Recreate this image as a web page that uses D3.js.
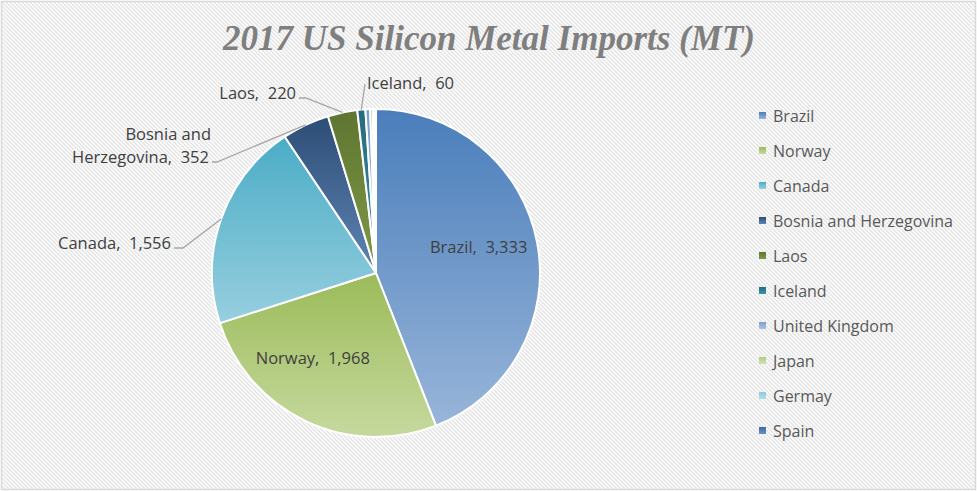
<!DOCTYPE html>
<html>
<head>
<meta charset="utf-8">
<script src="https://cdn.jsdelivr.net/npm/d3@7"></script>
<style>
  body { margin: 0; background: #fff; }
  svg text { font-family: "Open Sans", "Noto Sans", sans-serif; }
</style>
</head>
<body>
<svg id="chart" width="977" height="491"></svg>
<script>
// Data
const countries = ["Brazil", "Norway", "Canada", "Bosnia and Herzegovina", "Laos",
                   "Iceland", "United Kingdom", "Japan", "Germay", "Spain"];
const imports = [3333, 1968, 1556, 352, 220, 60, 35, 20, 15, 8];
const labelled = ["Brazil", "Norway", "Canada", "Bosnia and Herzegovina", "Laos", "Iceland"];

// slice gradients: top colour, bottom colour
const topColors = ["#4a7ebb", "#9bbb59", "#4bacc6", "#2c4d75", "#5f7530",
                   "#276a7c", "#7c9fd0", "#b3cb82", "#8ccbdc", "#3f6aa0"];
const bottomColors = ["#98b5d9", "#c6d99e", "#97cfdf", "#5f84b5", "#7f9a48",
                      "#3d93a9", "#aac2e2", "#d1e2b2", "#b2dde9", "#6a90c2"];

const svg = d3.select("#chart");
const W = 977, H = 491;
const defs = svg.append("defs");

// diagonal hatch background
const pat = defs.append("pattern")
    .attr("id", "hatch")
    .attr("width", 4).attr("height", 4)
    .attr("patternUnits", "userSpaceOnUse");
pat.append("rect").attr("width", 4).attr("height", 4).attr("fill", "#ffffff");
pat.append("path")
    .attr("d", "M-1,-1 L5,5 M-1,3 L1,5 M3,-1 L5,1")
    .attr("stroke", "#e3e3e3")
    .attr("stroke-width", 1.4);

svg.append("rect")
    .attr("x", 1.5).attr("y", 1.5)
    .attr("width", W - 3).attr("height", H - 3)
    .attr("fill", "url(#hatch)")
    .attr("stroke", "#d9d9d9")
    .attr("stroke-width", 1.5);

countries.forEach((c, i) => {
    const g = defs.append("linearGradient")
        .attr("id", `grad-${i}`)
        .attr("x1", 0).attr("y1", 0).attr("x2", 0).attr("y2", 1);
    g.append("stop").attr("offset", "0%").attr("stop-color", topColors[i]);
    g.append("stop").attr("offset", "100%").attr("stop-color", bottomColors[i]);
});

// Title
svg.append("text")
    .attr("x", 489)
    .attr("y", 50)
    .style("text-anchor", "middle")
    .style("font-family", "'Liberation Serif', 'DejaVu Serif', serif")
    .style("font-weight", "bold")
    .style("font-style", "italic")
    .style("font-size", "35px")
    .attr("fill", "#7f7f7f")
    .text("2017 US Silicon Metal Imports (MT)");

// Pie
const cx = 376, cy = 273, r = 164;
const chart = svg.append("g").attr("transform", `translate(${cx},${cy})`);

const pie = d3.pie().sort(null).value(d => d.value);
const data = countries.map((c, i) => ({ name: c, value: imports[i], idx: i }));
const arcs = pie(data);
const arc = d3.arc().innerRadius(0).outerRadius(r);
const rim = d3.arc().innerRadius(r).outerRadius(r);

chart.selectAll(".slice")
    .data(arcs)
    .enter().append("path")
    .attr("class", "slice")
    .attr("d", arc)
    .attr("fill", d => `url(#grad-${d.data.idx})`)
    .attr("stroke", "#ffffff")
    .attr("stroke-width", 2)
    .attr("stroke-linejoin", "round");

// label placement: inside labels nudge from centroid, outside labels with leader
const fmt = d3.format(",");
const labelStyle = {
    "Brazil":  { inside: true, dx: 6, dy: -7 },
    "Norway":  { inside: true, dx: -21, dy: -4 },
    "Canada":  { inside: false, lx: -205, ly: -24, bend: -193, anchor: "end" },
    "Bosnia and Herzegovina": { inside: false, lx: -167, ly: -110, bend: -159, anchor: "end", lines: ["Bosnia and", "Herzegovina,"] },
    "Laos":    { inside: false, lx: -80, ly: -174, bend: -70, anchor: "end" },
    "Iceland": { inside: false, lx: -9, ly: -184, bend: -9, anchor: "start" }
};
const inner = d3.arc().innerRadius(r * 0.6).outerRadius(r * 0.6);

const labels = chart.append("g");
arcs.filter(d => labelled.includes(d.data.name)).forEach(d => {
    const s = labelStyle[d.data.name];
    const txt = `${d.data.name},\u00a0 ${fmt(d.data.value)}`;
    if (s.inside) {
        const [x, y] = inner.centroid(d);
        labels.append("text")
            .attr("x", x + s.dx).attr("y", y + s.dy)
            .attr("dy", "0.35em")
            .style("text-anchor", "middle")
            .style("font-size", "16.5px")
            .attr("fill", "#404040")
            .text(txt);
        return;
    }
    const [rx, ry] = rim.centroid(d);
    // leader line
    const lineY = s.ly - 1;
    const pts = s.anchor === "end"
        ? [[s.lx + 3, lineY], [s.bend, lineY], [rx, ry]]
        : [[s.lx - 2, s.ly - 5], [rx, ry]];
    labels.append("path")
        .attr("d", d3.line()(pts))
        .attr("fill", "none")
        .attr("stroke", "#a6a6a6")
        .attr("stroke-width", 1.3);
    const t = labels.append("text")
        .attr("x", s.lx).attr("y", s.ly)
        .style("text-anchor", s.anchor)
        .style("font-size", "16.5px")
        .attr("fill", "#404040");
    if (s.lines) {
        t.append("tspan").attr("x", s.lx + 2).attr("dy", "-1.4em").text(s.lines[0]);
        t.append("tspan").attr("x", s.lx).attr("dy", "1.4em")
            .text(`${s.lines[1]}\u00a0 ${fmt(d.data.value)}`);
    } else {
        t.text(txt);
    }
});

// Legend
const legend = svg.append("g").attr("transform", "translate(759,116)");
const item = legend.selectAll(".item")
    .data(countries)
    .enter().append("g")
    .attr("class", "item")
    .attr("transform", (d, i) => `translate(0,${i * 35})`);
item.append("rect")
    .attr("x", 0).attr("y", -4)
    .attr("width", 7).attr("height", 7)
    .attr("fill", (d, i) => `url(#grad-${i})`);
item.append("text")
    .attr("x", 14).attr("y", 0)
    .attr("dy", "0.35em")
    .style("font-size", "16px")
    .attr("fill", "#595959")
    .text(d => d);
</script>
</body>
</html>
